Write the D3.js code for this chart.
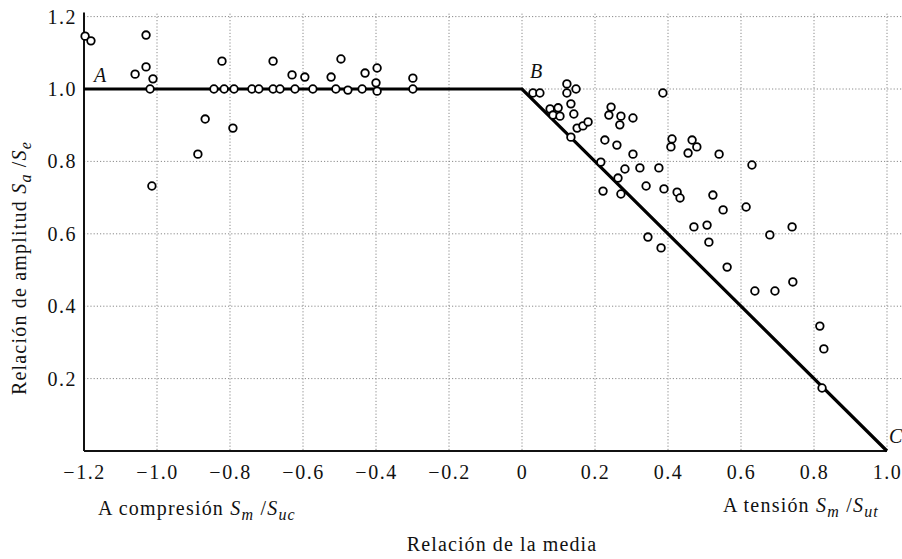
<!DOCTYPE html>
<html>
<head>
<meta charset="utf-8">
<script src="https://cdn.jsdelivr.net/npm/d3@7"></script>
<style>
  body { margin: 0; background: #fff; }
</style>
</head>
<body>
<svg id="chart" width="902" height="559"></svg>
<script>
// data (mean ratio vs amplitude ratio)
var xTicks = [-1.2, -1.0, -0.8, -0.6, -0.4, -0.2, 0, 0.2, 0.4, 0.6, 0.8, 1.0];
var yTicks = [0.2, 0.4, 0.6, 0.8, 1.0, 1.2];

// Goodman-type limit line A - B - C
var lineX = [-1.2, 0, 1.0];
var lineY = [1.0, 1.0, 0];

// test points, compression side
var compX = [-1.197, -1.181, -1.060, -1.030, -1.030, -1.011, -1.019, -1.014, -0.888, -0.868,
             -0.822, -0.844, -0.816, -0.789, -0.792, -0.740, -0.721, -0.682, -0.682, -0.663,
             -0.630, -0.622, -0.595, -0.573, -0.523, -0.510, -0.496, -0.477, -0.438, -0.430,
             -0.397, -0.400, -0.397, -0.299, -0.299];
var compY = [1.146, 1.133, 1.041, 1.149, 1.061, 1.028, 1.000, 0.732, 0.820, 0.917,
             1.077, 1.000, 1.000, 1.000, 0.892, 1.000, 1.000, 1.077, 1.000, 1.000,
             1.039, 1.000, 1.033, 1.000, 1.033, 1.000, 1.083, 0.997, 1.000, 1.044,
             1.058, 1.017, 0.994, 1.030, 1.000];

// test points, tension side
var tensX = [0.030, 0.049, 0.123, 0.123, 0.148, 0.134, 0.142, 0.077, 0.099, 0.085,
             0.104, 0.151, 0.167, 0.181, 0.134, 0.244, 0.238, 0.271, 0.268, 0.304,
             0.386, 0.227, 0.260, 0.304, 0.411, 0.408, 0.466, 0.479, 0.455, 0.540,
             0.216, 0.282, 0.323, 0.375, 0.263, 0.222, 0.271, 0.340, 0.389, 0.425,
             0.433, 0.523, 0.551, 0.471, 0.507, 0.345, 0.381, 0.512, 0.614, 0.740,
             0.679, 0.562, 0.638, 0.693, 0.742, 0.816, 0.827, 0.822, 0.630];
var tensY = [0.989, 0.989, 1.014, 0.989, 1.000, 0.959, 0.931, 0.945, 0.948, 0.928,
             0.925, 0.892, 0.898, 0.909, 0.867, 0.950, 0.928, 0.925, 0.901, 0.920,
             0.989, 0.859, 0.845, 0.820, 0.862, 0.840, 0.859, 0.840, 0.823, 0.820,
             0.798, 0.779, 0.782, 0.782, 0.754, 0.718, 0.710, 0.732, 0.724, 0.715,
             0.699, 0.707, 0.666, 0.619, 0.624, 0.591, 0.561, 0.577, 0.674, 0.619,
             0.597, 0.508, 0.442, 0.442, 0.467, 0.345, 0.282, 0.174, 0.790];

var SERIF = "'Liberation Serif', 'DejaVu Serif', 'Times New Roman', serif";

var svg = d3.select("#chart").style("font-family", SERIF);

var x = d3.scaleLinear().domain([-1.2, 1.0]).range([84, 887]);
var y = d3.scaleLinear().domain([0, 1.2]).range([451, 16.6]);

var fmt = function(v) { return v === 0 ? "0" : d3.format(".1f")(v); };

// dotted grid
var grid = svg.append("g").attr("class", "grid");
grid.selectAll(".gx")
    .data(xTicks.filter(function(d) { return d > -1.2; }))
    .enter().append("line")
    .attr("x1", function(d) { return x(d); })
    .attr("x2", function(d) { return x(d); })
    .attr("y1", y(1.2) - 3)
    .attr("y2", y(0))
    .attr("stroke", "#8a8a8a")
    .attr("stroke-width", 1)
    .attr("stroke-dasharray", "1.2,2");
grid.selectAll(".gy")
    .data(yTicks)
    .enter().append("line")
    .attr("x1", x(-1.2))
    .attr("x2", 902)
    .attr("y1", function(d) { return y(d); })
    .attr("y2", function(d) { return y(d); })
    .attr("stroke", "#8a8a8a")
    .attr("stroke-width", 1)
    .attr("stroke-dasharray", "1.2,2");

// axes
var xAxis = svg.append("g")
    .attr("transform", "translate(0," + y(0) + ")")
    .call(d3.axisBottom(x).tickValues(xTicks).tickFormat(fmt).tickSize(0).tickPadding(14));
var yAxis = svg.append("g")
    .attr("transform", "translate(" + x(-1.2) + ",0)")
    .call(d3.axisLeft(y).tickValues(yTicks).tickFormat(fmt).tickSize(0).tickPadding(7));

[xAxis, yAxis].forEach(function(g) {
    g.attr("font-family", null).attr("font-size", null);
    g.select(".domain").attr("stroke", "#111").attr("stroke-width", 2);
    g.selectAll("text")
        .style("font-family", SERIF)
        .style("font-size", "20px")
        .style("letter-spacing", "1.5px")
        .attr("fill", "#111");
});
yAxis.select(".domain").attr("d", "M0," + (y(1.2) - 4) + "V" + y(0));
xAxis.select(".domain").attr("d", "M0,0H" + (x(1.0) - x(-1.2)))
    .attr("transform", "translate(" + x(-1.2) + ",0)");

// limit line
var pts = lineX.map(function(d, i) { return [d, lineY[i]]; });
svg.append("path")
    .datum(pts)
    .attr("d", d3.line().x(function(d) { return x(d[0]); }).y(function(d) { return y(d[1]); }))
    .attr("fill", "none")
    .attr("stroke", "#000")
    .attr("stroke-width", 3.2)
    .attr("stroke-linejoin", "miter");

// points
var allX = compX.concat(tensX), allY = compY.concat(tensY);
svg.append("g").selectAll("circle")
    .data(allX)
    .enter().append("circle")
    .attr("cx", function(d) { return x(d); })
    .attr("cy", function(d, i) { return y(allY[i]); })
    .attr("r", 3.8)
    .attr("fill", "#fff")
    .attr("stroke", "#000")
    .attr("stroke-width", 1.8);

// letters on the line
var labels = [["A", -1.17, 1.0, -1, -7], ["B", 0, 1.0, 8, -11], ["C", 1.0, 0, 2, -8]];
svg.selectAll(".pt-label")
    .data(labels)
    .enter().append("text")
    .attr("x", function(d) { return x(d[1]) + d[3]; })
    .attr("y", function(d) { return y(d[2]) + d[4]; })
    .style("font-family", SERIF)
    .style("font-size", "20px")
    .style("font-style", "italic")
    .attr("fill", "#111")
    .text(function(d) { return d[0]; });

// axis titles
function ratio(t, main, subA, subB) {
    t.style("font-family", SERIF).style("font-size", "20px")
        .style("letter-spacing", "1.2px").attr("fill", "#111");
    t.append("tspan").text(main);
    t.append("tspan").style("font-style", "italic").text("S");
    t.append("tspan").style("font-style", "italic").style("font-size", "16px").attr("dy", 5).text(subA);
    t.append("tspan").attr("dy", -5).text(" /");
    t.append("tspan").style("font-style", "italic").text("S");
    t.append("tspan").style("font-style", "italic").style("font-size", "16px").attr("dy", 5).text(subB);
}

var comp = svg.append("text").attr("x", 98).attr("y", 515);
ratio(comp, "A compresión ", "m", "uc");

var tens = svg.append("text").attr("x", 879).attr("y", 512).attr("text-anchor", "end");
ratio(tens, "A tensión ", "m", "ut");

svg.append("text")
    .attr("x", 502).attr("y", 551)
    .attr("text-anchor", "middle")
    .style("font-family", SERIF)
    .style("font-size", "20px")
    .style("letter-spacing", "1.1px")
    .attr("fill", "#111")
    .text("Relación de la media");

var yt = svg.append("text")
    .attr("transform", "translate(26,268) rotate(-90)")
    .attr("text-anchor", "middle");
ratio(yt, "Relación de amplitud  ", "a", "e");
</script>
</body>
</html>
